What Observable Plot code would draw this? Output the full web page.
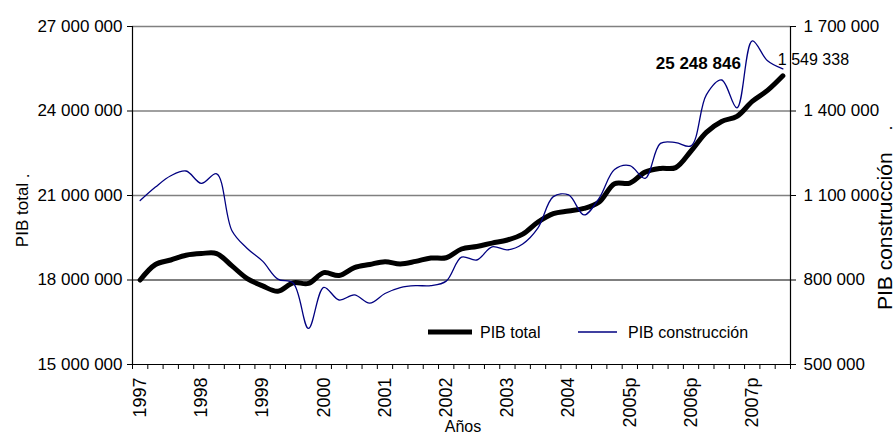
<!DOCTYPE html>
<html>
<head>
<meta charset="utf-8">
<script src="https://cdn.jsdelivr.net/npm/d3@7"></script>
<script src="https://cdn.jsdelivr.net/npm/@observablehq/plot@0.6"></script>
<style>
  body { margin: 0; background: #fff; }
  #wrap { position: relative; width: 895px; height: 435px; overflow: hidden; background: #fff; }
  svg text { font-family: "Liberation Sans", Arial, sans-serif; }
</style>
</head>
<body>
<div id="wrap"></div>
<script>
// Quarterly categories (1997 Q1 .. 2007 Q3)
const quarters = [
  "1997-1","1997-2","1997-3","1997-4",
  "1998-1","1998-2","1998-3","1998-4",
  "1999-1","1999-2","1999-3","1999-4",
  "2000-1","2000-2","2000-3","2000-4",
  "2001-1","2001-2","2001-3","2001-4",
  "2002-1","2002-2","2002-3","2002-4",
  "2003-1","2003-2","2003-3","2003-4",
  "2004-1","2004-2","2004-3","2004-4",
  "2005p-1","2005p-2","2005p-3","2005p-4",
  "2006p-1","2006p-2","2006p-3","2006p-4",
  "2007p-1","2007p-2","2007p-3"
];
const yearLabels = ["1997","1998","1999","2000","2001","2002","2003","2004","2005p","2006p","2007p"];
const yearTickIndex = [0, 4, 8, 12, 16, 20, 24, 28, 32, 36, 40];

// PIB total (left axis)
const pibTotal = [
  18000000, 18550000, 18710000, 18880000,
  18940000, 18940000, 18500000, 18050000,
  17790000, 17600000, 17900000, 17880000,
  18260000, 18160000, 18440000, 18550000,
  18650000, 18570000, 18660000, 18780000,
  18790000, 19100000, 19190000, 19310000,
  19420000, 19630000, 20060000, 20360000,
  20450000, 20540000, 20770000, 21420000,
  21440000, 21830000, 21960000, 21990000,
  22580000, 23240000, 23630000, 23810000,
  24340000, 24730000, 25248846
];

// PIB construcción (right axis)
const pibConstruccion = [
  1082000, 1130000, 1170000, 1187000,
  1143000, 1177000, 975000, 912000,
  867000, 803000, 789000, 628000,
  774000, 729000, 747000, 718000,
  752000, 773000, 780000, 780000,
  796000, 881000, 871000, 918000,
  907000, 928000, 985000, 1096000,
  1102000, 1031000, 1091000, 1192000,
  1206000, 1161000, 1285000, 1288000,
  1276000, 1457000, 1510000, 1411000,
  1649000, 1578000, 1549338
];

const leftTicks = [15000000, 18000000, 21000000, 24000000, 27000000];
const rightTicks = [500000, 800000, 1100000, 1400000, 1700000];

const fmt = v => d3.format(",")(v).replace(/,/g, " ");
const toLeft = d3.scaleLinear().domain([500000, 1700000]).range([15000000, 27000000]);

const data = quarters.map((q, i) => ({ i, q, total: pibTotal[i], cons: pibConstruccion[i] }));
const boundaries = d3.range(quarters.length + 1).map(k => k - 0.5);
const last = data[data.length - 1];

const plot = Plot.plot({
  width: 895,
  height: 435,
  marginLeft: 132,
  marginRight: 105,
  marginTop: 26,
  marginBottom: 71,
  style: { fontFamily: "Liberation Sans, Arial, sans-serif", fontSize: "17px", color: "#000", background: "#fff" },
  x: { domain: [-0.5, quarters.length - 0.5] },
  y: { domain: [15000000, 27000000] },
  marks: [
    Plot.ruleY(leftTicks.filter(v => v !== 15000000 && v !== 18000000), { stroke: "#808080", strokeWidth: 1.3 }),
    Plot.ruleY([18000000], { stroke: "#000", strokeWidth: 1.2 }),
    Plot.ruleY([15000000], { stroke: "#000", strokeWidth: 1.2 }),
    Plot.ruleX([-0.5, quarters.length - 0.5], { stroke: "#000", strokeWidth: 1.2 }),
    Plot.axisY({ anchor: "left", ticks: leftTicks, tickFormat: fmt, tickSize: 5, tickPadding: 5, label: null, fontSize: 17 }),
    Plot.axisY({ anchor: "right", ticks: rightTicks.map(toLeft), tickFormat: v => fmt(Math.round(toLeft.invert(v))), tickSize: 5, tickPadding: 8, label: null, fontSize: 17 }),
    Plot.axisX({ ticks: boundaries, tickFormat: () => "", tickSize: 5, label: null }),
    Plot.axisX({ ticks: yearTickIndex, tickFormat: i => yearLabels[i / 4], tickRotate: -90, tickSize: 0, tickPadding: 13, label: null, fontSize: 18 }),
    Plot.line(data, { x: "i", y: "total", stroke: "#000", strokeWidth: 5, curve: "catmull-rom", strokeLinejoin: "round", strokeLinecap: "round" }),
    Plot.line(data, { x: "i", y: d => toLeft(d.cons), stroke: "#000080", strokeWidth: 1.3, curve: "catmull-rom" }),
    Plot.text([last], { x: "i", y: "total", text: d => fmt(d.total), textAnchor: "end", dx: -42, dy: -12, fontWeight: "bold", fontSize: 17 }),
    Plot.text([last], { x: "i", y: d => toLeft(d.cons), text: d => fmt(d.cons), textAnchor: "start", dx: -5, dy: -9, fontSize: 16 })
  ]
});

document.getElementById("wrap").appendChild(plot);

const svg = d3.select(plot);
// Axis titles
svg.append("text").attr("transform", "translate(28,215) rotate(-90)")
  .attr("text-anchor", "middle").attr("font-size", 17).text("PIB total");
svg.append("text").attr("transform", "translate(29,176) rotate(-90)")
  .attr("text-anchor", "middle").attr("font-size", 17).text(".");
svg.append("text").attr("transform", "translate(892,310) rotate(-90)")
  .attr("text-anchor", "start").attr("font-size", 21).text("PIB construcción");
svg.append("text").attr("transform", "translate(892,128) rotate(-90)")
  .attr("text-anchor", "middle").attr("font-size", 18).text(".");
svg.append("text").attr("x", 463).attr("y", 432)
  .attr("text-anchor", "middle").attr("font-size", 16).text("Años");

// Legend
const lg = svg.append("g");
lg.append("line").attr("x1", 428).attr("x2", 472).attr("y1", 332).attr("y2", 332)
  .attr("stroke", "#000").attr("stroke-width", 5);
lg.append("text").attr("x", 480).attr("y", 332).attr("dy", "0.35em")
  .attr("text-anchor", "start").attr("font-size", 16).text("PIB total");
lg.append("line").attr("x1", 578).attr("x2", 617).attr("y1", 332).attr("y2", 332)
  .attr("stroke", "#000080").attr("stroke-width", 1.3);
lg.append("text").attr("x", 628).attr("y", 332).attr("dy", "0.35em")
  .attr("text-anchor", "start").attr("font-size", 16).text("PIB construcción");
</script>
</body>
</html>
